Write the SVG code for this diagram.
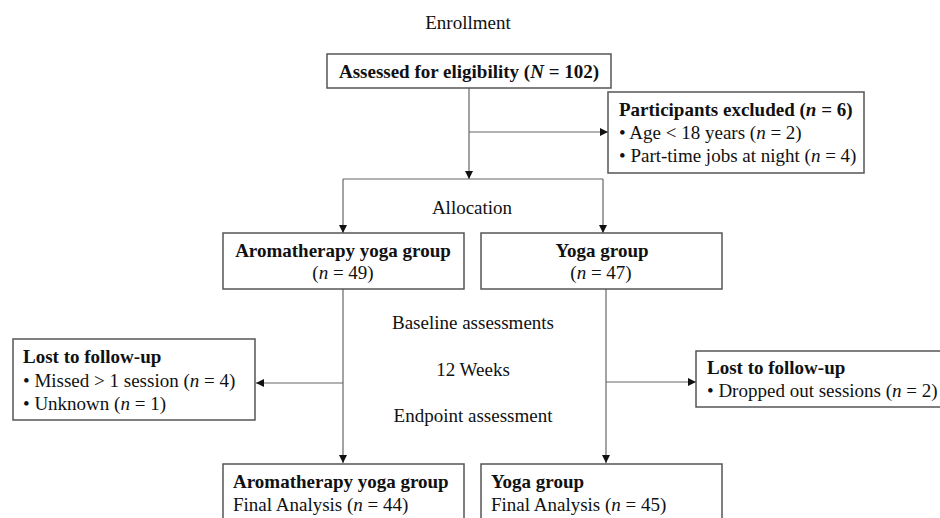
<svg xmlns="http://www.w3.org/2000/svg" width="940" height="518" viewBox="0 0 940 518">
<style>
text{font-family:"Liberation Serif","Times New Roman",serif;font-size:19px;fill:#111}
.b{font-weight:bold}
.c{text-anchor:middle}
.box{fill:#fff;stroke:#555;stroke-width:1.5}
.ln{fill:none;stroke:#666;stroke-width:1.2}
</style>
<defs>
<marker id="ah" viewBox="0 0 10 10" refX="10" refY="5" markerWidth="8" markerHeight="8" markerUnits="userSpaceOnUse" orient="auto">
<path d="M0,0 L10,5 L0,10 z" fill="#111"/>
</marker>
</defs>
<rect width="940" height="518" fill="#fff"/>
<text class="c" x="468" y="29">Enrollment</text>
<text class="c" x="472" y="214">Allocation</text>
<text class="c" x="473" y="329">Baseline assessments</text>
<text class="c" x="473" y="376">12 Weeks</text>
<text class="c" x="473" y="422">Endpoint assessment</text>
<g id="connectors">
<path class="ln" d="M469,88 V179" marker-end="url(#ah)"/>
<path class="ln" d="M469,132 H608" marker-end="url(#ah)"/>
<path class="ln" d="M343,179 H603"/>
<path class="ln" d="M343,179 V233" marker-end="url(#ah)"/>
<path class="ln" d="M603,179 V233" marker-end="url(#ah)"/>
<path class="ln" d="M343,289 V463" marker-end="url(#ah)"/>
<path class="ln" d="M606,289 V463" marker-end="url(#ah)"/>
<path class="ln" d="M343,383 H256" marker-end="url(#ah)"/>
<path class="ln" d="M606,382 H696" marker-end="url(#ah)"/>
</g>
<g id="assessed">
<rect class="box" x="327" y="54" width="284" height="34"/>
<text class="b c" x="469" y="78">Assessed for eligibility (<tspan font-style="italic">N</tspan> = 102)</text>
</g>
<g id="excluded">
<rect class="box" x="608" y="92" width="256" height="81"/>
<text class="b" x="619" y="116">Participants excluded (<tspan font-style="italic">n</tspan> = 6)</text>
<text x="619" y="139">• Age &lt; 18 years (<tspan font-style="italic">n</tspan> = 2)</text>
<text x="619" y="162">• Part-time jobs at night (<tspan font-style="italic">n</tspan> = 4)</text>
</g>
<g id="aroma">
<rect class="box" x="223" y="233" width="241" height="56"/>
<text class="b c" x="343" y="257">Aromatherapy yoga group</text>
<text class="c" x="343" y="279">(<tspan font-style="italic">n</tspan> = 49)</text>
</g>
<g id="yoga">
<rect class="box" x="481" y="233" width="241" height="56"/>
<text class="b c" x="602" y="257">Yoga group</text>
<text class="c" x="601" y="279">(<tspan font-style="italic">n</tspan> = 47)</text>
</g>
<g id="lost-left">
<rect class="box" x="13" y="339" width="242" height="81"/>
<text class="b" x="23" y="363">Lost to follow-up</text>
<text x="23" y="387">• Missed &gt; 1 session (<tspan font-style="italic">n</tspan> = 4)</text>
<text x="23" y="410">• Unknown (<tspan font-style="italic">n</tspan> = 1)</text>
</g>
<g id="lost-right">
<rect class="box" x="696" y="351" width="260" height="56"/>
<text class="b" x="707" y="374">Lost to follow-up</text>
<text x="707" y="397">• Dropped out sessions (<tspan font-style="italic">n</tspan> = 2)</text>
</g>
<g id="aroma-final">
<rect class="box" x="223" y="464" width="241" height="70"/>
<text class="b" x="233" y="488">Aromatherapy yoga group</text>
<text x="233" y="511">Final Analysis (<tspan font-style="italic">n</tspan> = 44)</text>
</g>
<g id="yoga-final">
<rect class="box" x="481" y="464" width="241" height="70"/>
<text class="b" x="491" y="488">Yoga group</text>
<text x="491" y="511">Final Analysis (<tspan font-style="italic">n</tspan> = 45)</text>
</g>
</svg>
